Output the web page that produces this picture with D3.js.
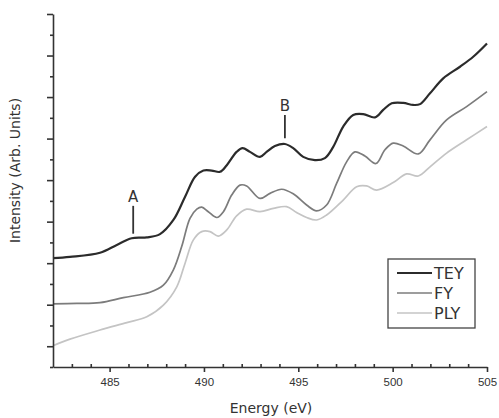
<!DOCTYPE html>
<html>
<head>
<meta charset="utf-8">
<script src="https://cdn.jsdelivr.net/npm/d3@7"></script>
<style>
  body { margin: 0; background: #fff; }
  svg { display: block; font-family: "DejaVu Sans", sans-serif; }
</style>
</head>
<body>
<div id="chart"></div>
<script>
// energies (eV) and intensities (arb. units)
const teyE = [482.0, 482.9, 484.49, 485.38, 486.17, 486.97, 487.67, 488.38, 489.0, 489.53, 489.97, 490.41, 490.85, 491.21, 491.73, 492.05, 492.44, 492.97, 493.32, 493.76, 494.29, 494.73, 495.26, 495.88, 496.41, 496.85, 497.38, 497.91, 498.44, 499.06, 499.5, 499.95, 500.56, 501.09, 501.45, 501.98, 502.68, 503.57, 504.27, 505.0];
const teyI = [2.12, 2.15, 2.25, 2.44, 2.6, 2.62, 2.7, 3.04, 3.6, 4.08, 4.23, 4.23, 4.2, 4.36, 4.68, 4.77, 4.68, 4.56, 4.68, 4.82, 4.87, 4.77, 4.56, 4.48, 4.53, 4.8, 5.29, 5.57, 5.59, 5.51, 5.69, 5.85, 5.86, 5.81, 5.83, 6.09, 6.45, 6.73, 6.97, 7.29];

const fyE = [482.0, 483.26, 484.49, 485.73, 487.14, 487.85, 488.38, 488.82, 489.26, 489.62, 489.88, 490.23, 490.68, 491.03, 491.47, 491.91, 492.26, 492.97, 493.5, 494.12, 494.73, 495.44, 495.97, 496.5, 497.03, 497.56, 498.0, 498.53, 499.12, 499.59, 500.03, 500.56, 501.36, 501.98, 502.86, 503.92, 505.0];
const fyI = [1.02, 1.03, 1.05, 1.17, 1.3, 1.47, 1.84, 2.4, 3.08, 3.3, 3.35, 3.24, 3.1, 3.24, 3.64, 3.88, 3.86, 3.56, 3.68, 3.78, 3.67, 3.4, 3.26, 3.4, 3.92, 4.44, 4.68, 4.58, 4.4, 4.73, 4.89, 4.82, 4.63, 4.97, 5.45, 5.77, 6.13];

const plyE = [482.0, 482.9, 484.49, 485.91, 486.97, 487.85, 488.56, 489.0, 489.44, 489.88, 490.32, 490.76, 491.21, 491.73, 492.26, 492.97, 493.68, 494.38, 494.91, 495.44, 495.97, 496.5, 497.38, 498.09, 498.62, 499.15, 500.03, 500.74, 501.36, 501.98, 502.86, 503.92, 505.0];
const plyI = [0.01, 0.17, 0.39, 0.57, 0.71, 0.99, 1.43, 2.0, 2.56, 2.76, 2.76, 2.65, 2.8, 3.14, 3.3, 3.24, 3.32, 3.36, 3.22, 3.1, 3.04, 3.16, 3.52, 3.84, 3.86, 3.76, 3.94, 4.15, 4.1, 4.32, 4.65, 4.97, 5.29];

const seriesNames = ["TEY", "FY", "PLY"];
const xMajorTicks = [485, 490, 495, 500, 505];

// peak markers: energy, bottom and top of the marker line
const markLabels = ["A", "B"];
const markE = [486.25, 494.29];
const markLow = [2.71, 5.01];
const markHigh = [3.38, 5.57];

const W = 499, H = 418;
const margin = {top: 14, right: 12, bottom: 51, left: 53};

const svg = d3.select("#chart").append("svg")
    .attr("width", W)
    .attr("height", H);

const x = d3.scaleLinear()
    .domain([482, 505])
    .range([margin.left, W - margin.right]);

const y = d3.scaleLinear()
    .domain([-0.5, 8])
    .range([H - margin.bottom, margin.top]);

const colors = {TEY: "#2b2b2b", FY: "#7c7c7c", PLY: "#c4c4c4"};
const widths = {TEY: 2.2, FY: 1.7, PLY: 1.7};

const series = [
  {name: "TEY", pts: teyE.map((e, i) => [e, teyI[i]])},
  {name: "FY", pts: fyE.map((e, i) => [e, fyI[i]])},
  {name: "PLY", pts: plyE.map((e, i) => [e, plyI[i]])}
];

const line = d3.line()
    .x(d => x(d[0]))
    .y(d => y(d[1]))
    .curve(d3.curveCatmullRom.alpha(0.5));

// draw the lighter ones first so TEY sits on top
svg.selectAll("path.curve")
    .data(series.slice().reverse())
    .join("path")
    .attr("class", "curve")
    .attr("d", d => line(d.pts))
    .attr("fill", "none")
    .attr("stroke", d => colors[d.name])
    .attr("stroke-width", d => widths[d.name])
    .attr("stroke-linejoin", "round");

// x axis: major ticks out, minor ticks in
const xMinor = d3.range(483, 505, 1).filter(v => !xMajorTicks.includes(v));
const gx = svg.append("g")
    .attr("transform", `translate(0,${y(-0.5)})`)
    .call(d3.axisBottom(x).tickValues(xMajorTicks).tickSize(5).tickSizeOuter(0).tickPadding(6));
svg.append("g")
    .attr("transform", `translate(0,${y(-0.5)})`)
    .call(d3.axisBottom(x).tickValues(xMinor).tickSize(-3).tickFormat(""))
    .call(g => g.select(".domain").remove());

gx.selectAll("text")
    .attr("font-size", "11.5px")
    .attr("fill", "#333");

// y axis, no labels
const gy = svg.append("g")
    .attr("transform", `translate(${margin.left},0)`)
    .call(d3.axisLeft(y).tickValues(d3.range(0, 9, 1)).tickSize(6).tickSizeOuter(0).tickFormat(""));
svg.append("g")
    .attr("transform", `translate(${margin.left},0)`)
    .call(d3.axisLeft(y).tickValues(d3.range(-0.5, 8, 1)).tickSize(3).tickFormat(""))
    .call(g => g.select(".domain").remove());

svg.selectAll(".domain, .tick line")
    .attr("stroke", "#333")
    .attr("stroke-width", 1.6);

svg.append("text")
    .attr("x", (x(482) + x(505)) / 2 + 1)
    .attr("y", 413)
    .attr("text-anchor", "middle")
    .attr("font-size", "14px")
    .attr("fill", "#333")
    .text("Energy (eV)");

svg.append("text")
    .attr("transform", `translate(20,${(y(-0.5) + y(8)) / 2 - 20}) rotate(-90)`)
    .attr("text-anchor", "middle")
    .attr("font-size", "14px")
    .attr("fill", "#333")
    .text("Intensity (Arb. Units)");

// A / B markers
markLabels.forEach((lab, i) => {
  svg.append("line")
      .attr("x1", x(markE[i])).attr("x2", x(markE[i]))
      .attr("y1", y(markLow[i])).attr("y2", y(markHigh[i]))
      .attr("stroke", "#333")
      .attr("stroke-width", 1.8);
  svg.append("text")
      .attr("x", x(markE[i]))
      .attr("y", y(markHigh[i]) - 4)
      .attr("text-anchor", "middle")
      .attr("font-size", "15px")
      .attr("fill", "#333")
      .text(lab);
});

// legend
const lg = svg.append("g").attr("transform", "translate(388,259)");
lg.append("rect")
    .attr("width", 87)
    .attr("height", 69)
    .attr("fill", "#fff")
    .attr("stroke", "#444")
    .attr("stroke-width", 1.3);
seriesNames.forEach((name, i) => {
  const row = lg.append("g").attr("transform", `translate(0,${14 + i * 20})`);
  row.append("line")
      .attr("x1", 9).attr("x2", 44)
      .attr("stroke", colors[name])
      .attr("stroke-width", widths[name]);
  row.append("text")
      .attr("x", 46)
      .attr("y", 6)
      .attr("font-size", "16px")
      .attr("fill", "#333")
      .text(name);
});
</script>
</body>
</html>
